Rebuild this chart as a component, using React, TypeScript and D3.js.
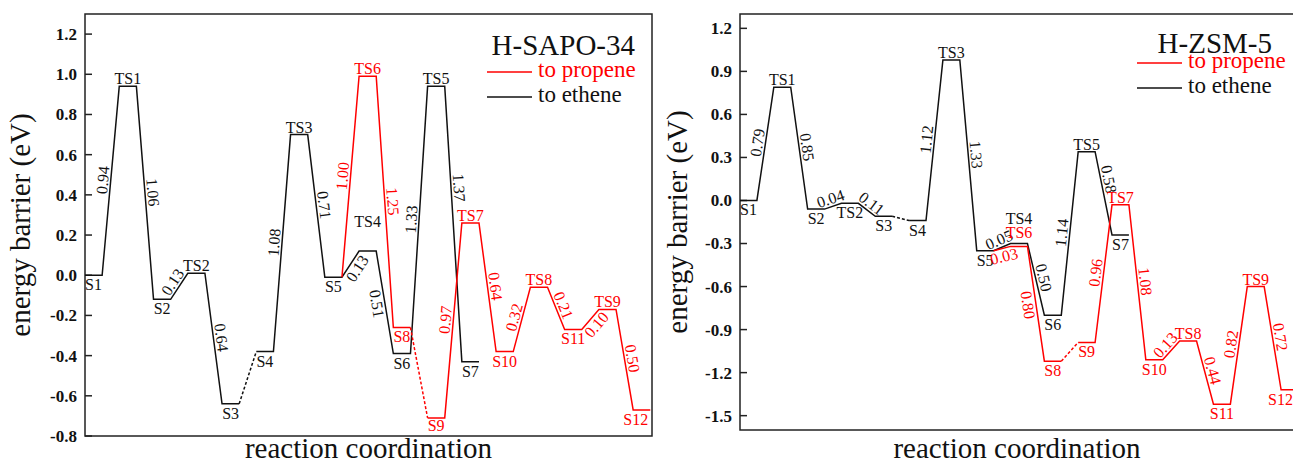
import React, { useEffect, useRef } from "react";
import * as d3 from "d3";

const W = 1293;
const H = 464;
const RED = "#ff0000";
const BLACK = "#111111";
const FONT = "'Times New Roman', 'Liberation Serif', 'DejaVu Serif', serif";

// ---- H-SAPO-34 ----
const sapoEtheneStates = ["S1", "TS1", "S2", "TS2", "S3", "S4", "TS3", "S5", "TS4", "S6", "TS5", "S7"];
const sapoEtheneEnergy = [0, 0.94, -0.12, 0.01, -0.64, -0.38, 0.7, -0.01, 0.12, -0.39, 0.94, -0.43];
const sapoEtheneBarriers = ["0.94", "1.06", "0.13", "0.64", "", "1.08", "0.71", "0.13", "0.51", "1.33", "1.37"];
const sapoPropeneStates = ["S5", "TS6", "S8", "S9", "TS7", "S10", "TS8", "S11", "TS9", "S12"];
const sapoPropeneEnergy = [-0.01, 0.99, -0.26, -0.71, 0.26, -0.38, -0.06, -0.27, -0.17, -0.67];
const sapoPropeneBarriers = ["1.00", "1.25", "", "0.97", "0.64", "0.32", "0.21", "0.10", "0.50"];
const sapoTicks = [-0.8, -0.6, -0.4, -0.2, 0.0, 0.2, 0.4, 0.6, 0.8, 1.0, 1.2];

// ---- H-ZSM-5 ----
const zsmEtheneStates = ["S1", "TS1", "S2", "TS2", "S3", "S4", "TS3", "S5", "TS4", "S6", "TS5", "S7"];
const zsmEtheneEnergy = [0, 0.79, -0.06, -0.02, -0.11, -0.14, 0.98, -0.35, -0.3, -0.8, 0.34, -0.24];
const zsmEtheneBarriers = ["0.79", "0.85", "0.04", "0.11", "", "1.12", "1.33", "0.05", "0.50", "1.14", "0.58"];
const zsmPropeneStates = ["S5", "TS6", "S8", "S9", "TS7", "S10", "TS8", "S11", "TS9", "S12"];
const zsmPropeneEnergy = [-0.35, -0.32, -1.12, -0.99, -0.03, -1.11, -0.98, -1.42, -0.6, -1.32];
const zsmPropeneBarriers = ["0.03", "0.80", "", "0.96", "1.08", "0.13", "0.44", "0.82", "0.72"];
const zsmTicks = [-1.5, -1.2, -0.9, -0.6, -0.3, 0.0, 0.3, 0.6, 0.9, 1.2];

const legendNames = ["to propene", "to ethene"];
const PROPENE_START = 7; // propene branch leaves from S5

// layout per panel (positions / label nudges only)
const panels = [
  {
    title: "H-SAPO-34",
    left: 85, right: 652, top: 14, bottom: 436, xMax: 16.55,
    yDomain: [-0.8, 1.3], ticks: sapoTicks,
    ethene: [sapoEtheneStates, sapoEtheneEnergy, sapoEtheneBarriers],
    propene: [sapoPropeneStates, sapoPropeneEnergy, sapoPropeneBarriers],
    yTitleX: 30,
    legend: { x: 487, titleX: 635, titleY: 55, y1: 72, y2: 97 },
    side: { e7: -1, e8: -1, p7: -1 } as Record<string, number>,
    along: { e10: 0.37 } as Record<string, number>,
    nudge: { TS4: [0, -22], S12: [-6, 0], S9: [0, -2] } as Record<string, number[]>,
    below: [] as string[],
  },
  {
    title: "H-ZSM-5",
    left: 740, right: 1298, top: 14, bottom: 430, xMax: 16.5,
    yDomain: [-1.6, 1.3], ticks: zsmTicks,
    ethene: [zsmEtheneStates, zsmEtheneEnergy, zsmEtheneBarriers],
    propene: [zsmPropeneStates, zsmPropeneEnergy, zsmPropeneBarriers],
    yTitleX: 687,
    legend: { x: 1137, titleX: 1272, titleY: 53, y1: 63, y2: 88 },
    side: { p0: -1, p1: -1 } as Record<string, number>,
    along: { e10: 0.35 } as Record<string, number>,
    nudge: { TS4: [0, -18], TS6: [0, -6], S12: [-9, 0] } as Record<string, number[]>,
    below: ["TS2"],
  },
];

function drawPanel(root: d3.Selection<SVGGElement, unknown, null, undefined>, p: any) {
  const x = d3.scaleLinear().domain([0, p.xMax]).range([p.left, p.right]);
  const y = d3.scaleLinear().domain(p.yDomain).range([p.bottom, p.top]);
  const line = d3.line();

  // axis frame + inward ticks
  root.append("rect")
    .attr("x", p.left).attr("y", p.top)
    .attr("width", p.right - p.left).attr("height", p.bottom - p.top)
    .attr("fill", "none").attr("stroke", "#222").attr("stroke-width", 1.5);

  const tick = root.selectAll(".tick").data(p.ticks).enter().append("g").attr("class", "tick");
  tick.append("line")
    .attr("x1", p.left).attr("x2", p.left + 7)
    .attr("y1", (d: number) => y(d)).attr("y2", (d: number) => y(d))
    .attr("stroke", "#222").attr("stroke-width", 1.5);
  tick.append("text")
    .attr("x", p.left - 8).attr("y", (d: number) => y(d)).attr("dy", "0.35em")
    .attr("text-anchor", "end").style("font-family", FONT).attr("font-weight", "bold")
    .attr("font-size", 17).attr("fill", "#111")
    .text((d: number) => d.toFixed(1));

  root.append("text")
    .attr("transform", `translate(${p.yTitleX},${(p.top + p.bottom) / 2}) rotate(-90)`)
    .attr("text-anchor", "middle").style("font-family", FONT).attr("font-size", 29).attr("fill", "#111")
    .text("energy barrier (eV)");
  root.append("text")
    .attr("x", (p.left + p.right) / 2 + (p.right > W ? -2 : 0)).attr("y", 458)
    .attr("text-anchor", "middle").style("font-family", FONT).attr("font-size", 29).attr("fill", "#111")
    .text("reaction coordination");

  const routes = [
    { key: "e", data: p.ethene, color: BLACK, start: 0, skipFirst: false },
    { key: "p", data: p.propene, color: RED, start: PROPENE_START, skipFirst: true },
  ];

  routes.forEach((r) => {
    const [names, energy, barriers] = r.data as [string[], number[], string[]];
    const g = root.append("g");
    const runs: { pts: [number, number][]; dashed: boolean }[] = [];
    let cur: [number, number][] = [];

    names.forEach((name, i) => {
      const s = r.start + i;
      const a: [number, number] = [x(s), y(energy[i])];
      const b: [number, number] = [x(s + 0.5), y(energy[i])];
      if (!(r.skipFirst && i === 0)) cur.push(a);
      cur.push(b);
      if (i < names.length - 1) {
        const next: [number, number] = [x(s + 1), y(energy[i + 1])];
        if (barriers[i] === "") {
          runs.push({ pts: cur, dashed: false });
          runs.push({ pts: [b, next], dashed: true });
          cur = [];
        } else {
          // barrier label along the connecting slope
          const dx = next[0] - b[0];
          const dy = next[1] - b[1];
          const ang = Math.atan2(dy, dx);
          const t = p.along[r.key + i] ?? 0.5;
          const side = p.side[r.key + i] ?? 1;
          const off = 8 * side;
          const cx = b[0] + dx * t + Math.sin(ang) * off;
          const cy = b[1] + dy * t - Math.cos(ang) * off;
          g.append("text")
            .attr("transform", `translate(${cx},${cy}) rotate(${(ang * 180) / Math.PI})`)
            .attr("text-anchor", "middle").attr("dominant-baseline", "central")
            .style("font-family", FONT).attr("font-size", 16).attr("fill", r.color)
            .text(barriers[i]);
        }
      }
      if (!(r.skipFirst && i === 0)) {
        const isTS = name.startsWith("TS") && !p.below.includes(name);
        const n = p.nudge[name] ?? [0, 0];
        g.append("text")
          .attr("x", x(s + 0.25) + n[0])
          .attr("y", y(energy[i]) + (isTS ? -2 : 15) + n[1])
          .attr("text-anchor", "middle").style("font-family", FONT).attr("font-size", 16)
          .attr("fill", r.color)
          .text(name);
      }
    });
    runs.push({ pts: cur, dashed: false });

    g.selectAll("path").data(runs).enter().append("path")
      .attr("d", (d) => line(d.pts))
      .attr("fill", "none").attr("stroke", r.color).attr("stroke-width", 1.5)
      .attr("stroke-dasharray", (d) => (d.dashed ? "3,2" : null));
  });

  // legend
  const L = p.legend;
  root.append("text")
    .attr("x", L.titleX).attr("y", L.titleY).attr("text-anchor", "end")
    .style("font-family", FONT).attr("font-size", 29).attr("fill", "#111")
    .text(p.title);
  [RED, BLACK].forEach((c, i) => {
    const ly = i === 0 ? L.y1 : L.y2;
    root.append("line")
      .attr("x1", L.x).attr("x2", L.x + 45).attr("y1", ly).attr("y2", ly)
      .attr("stroke", c).attr("stroke-width", 1.5);
    root.append("text")
      .attr("x", L.x + 51).attr("y", ly + 5)
      .style("font-family", FONT).attr("font-size", 23).attr("fill", c)
      .text(legendNames[i]);
  });
}

export default function App() {
  const ref = useRef<SVGGElement>(null);

  useEffect(() => {
    const root = d3.select(ref.current as SVGGElement);
    root.selectAll("*").remove();
    panels.forEach((p) => drawPanel(root.append("g"), p));
  }, []);

  return (
    <svg
      width={W}
      height={H}
      viewBox={`0 0 ${W} ${H}`}
      style={{ position: "absolute", left: 0, top: 0, background: "#fff" }}
    >
      <rect width={W} height={H} fill="#fff" />
      <g ref={ref} />
    </svg>
  );
}
